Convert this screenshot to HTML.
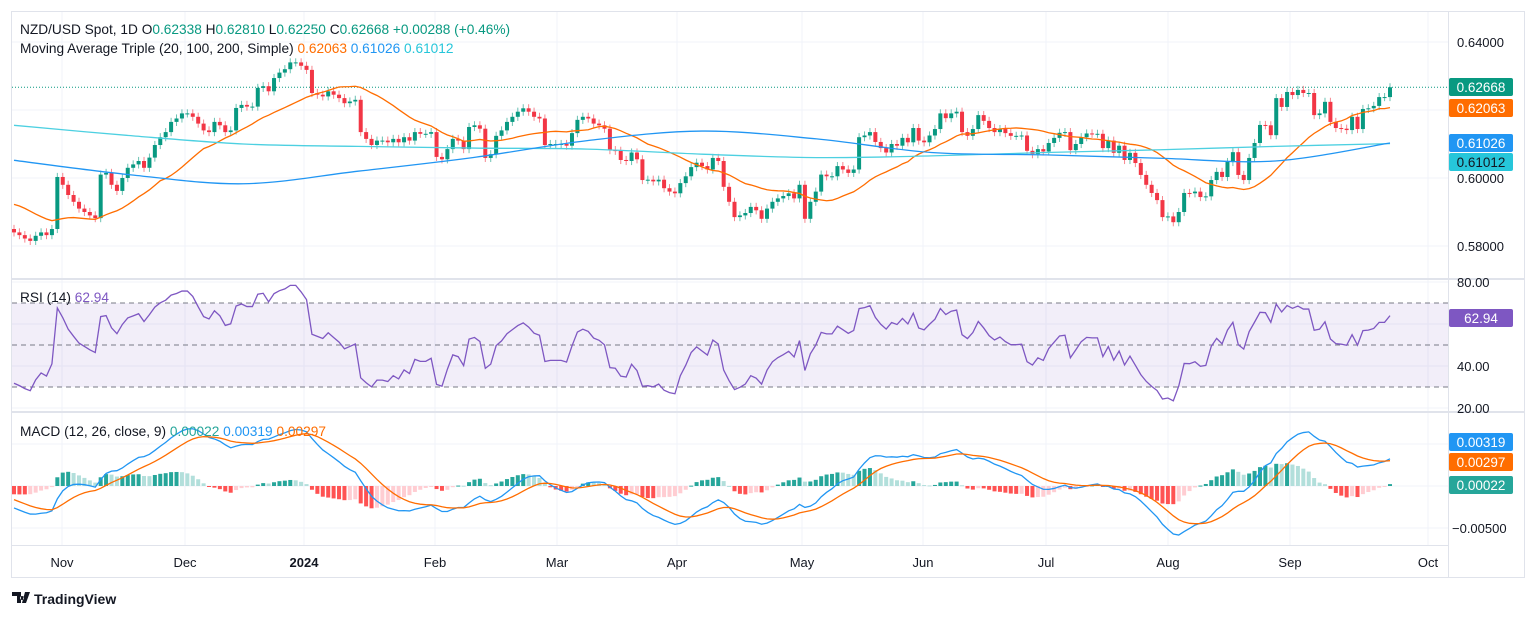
<!DOCTYPE html>
<html><head><meta charset="utf-8"><style>
html,body{margin:0;padding:0;background:#fff;width:1536px;height:618px;overflow:hidden;font-family:"Liberation Sans",sans-serif}
svg{position:absolute;left:0;top:0}
</style></head><body>
<svg id="chart" width="1536" height="618" xmlns="http://www.w3.org/2000/svg">
<rect x="11.5" y="11.5" width="1513" height="566" fill="#fff" stroke="#e0e3eb"/>
<g id="grid"></g>
<g id="panes"></g>
<g id="marks"></g>
<g id="axes" font-size="13" fill="#131722"></g>
<g font-size="13.7">
<text x="20" y="34" fill="#131722">NZD/USD Spot, 1D  O<tspan fill="#089981">0.62338</tspan>  H<tspan fill="#089981">0.62810</tspan>  L<tspan fill="#089981">0.62250</tspan>  C<tspan fill="#089981">0.62668</tspan>  <tspan fill="#089981">+0.00288 (+0.46%)</tspan></text>
<text x="20" y="53" fill="#131722">Moving Average Triple (20, 100, 200, Simple)  <tspan fill="#ff6d00">0.62063</tspan>  <tspan fill="#2196f3">0.61026</tspan>  <tspan fill="#26c6da">0.61012</tspan></text>
</g>
<text x="20" y="302" font-size="13.7" fill="#131722">RSI (14)  <tspan fill="#7e57c2">62.94</tspan></text>
<text x="20" y="436" font-size="13.7" fill="#131722">MACD (12, 26, close, 9)  <tspan fill="#26a69a">0.00022</tspan>  <tspan fill="#2196f3">0.00319</tspan>  <tspan fill="#ff6d00">0.00297</tspan></text>
<g>
<path d="M12 592h9v11h-4v-7h-5z M22 596a2 2 0 1 0 .1 0z M25 592h5l-4 11h-4z" fill="#131722"/>
<text x="34" y="604" font-size="14" font-weight="bold" fill="#131722">TradingView</text>
</g>
</svg>
<script>
const priorCloses=[0.596,0.595,0.593,0.594,0.592,0.590,0.594,0.597,0.596,0.598,0.595,0.593,0.596,0.598,0.600,0.599,0.597,0.595,0.594,0.592,0.590,0.592,0.594,0.593,0.592,0.590,0.588,0.587,0.586,0.585];
const closes=[0.5840,0.5832,0.5822,0.5815,0.5830,0.5840,0.5832,0.5850,
0.6003,0.5980,0.5950,0.5930,0.5910,0.5900,0.5890,0.5882,0.6010,0.6015,0.5980,0.5962,0.6000,0.6030,0.6040,0.6050,0.6030,0.6060,0.6097,0.6120,0.6135,0.6165,
0.6175,0.6190,0.6190,0.6180,0.6160,0.6140,0.6135,0.6165,0.6155,0.6135,0.6140,0.6206,0.6215,0.6210,0.6210,0.6265,0.6270,0.6255,0.6294,0.6310,0.6320,0.6340,0.6340,0.6330,0.6318,
0.6250,0.6245,0.6240,0.6255,0.6245,0.6235,0.6220,0.6225,0.6230,0.6135,0.6115,0.6097,0.6110,0.6110,0.6105,0.6115,0.6105,0.6120,0.6110,0.6135,0.6130,0.6130,0.6135,
0.6062,0.6055,0.6085,0.6115,0.6110,0.6085,0.6150,0.6155,0.6145,0.6059,0.6070,0.6124,0.6140,0.6165,0.6180,0.6195,0.6205,0.6195,0.6180,0.6175,
0.6097,0.6100,0.6100,0.6100,0.6095,0.6132,0.6171,0.6180,0.6175,0.6160,0.6155,0.6145,0.6082,0.6080,0.6053,0.6050,0.6075,0.6055,0.5994,0.5995,0.5990,
0.5995,0.5970,0.5960,0.5955,0.5985,0.6005,0.6032,0.6045,0.6035,0.6025,0.6059,0.6050,0.5974,0.5930,0.5885,0.5890,0.5897,0.5915,0.5905,0.5880,0.5910,0.5930,0.5940,0.5947,
0.5955,0.5940,0.5980,0.5880,0.5930,0.5960,0.6010,0.6005,0.6005,0.6035,0.6025,0.6015,0.6025,0.6120,0.6125,0.6135,0.6106,0.6088,0.6075,0.6100,0.6095,0.6118,
0.6105,0.6147,0.6110,0.6105,0.6125,0.6144,0.6190,0.6176,0.6190,0.6195,0.6135,0.6124,0.6144,0.6185,0.6168,0.6147,0.6135,0.6144,0.6132,0.6124,0.6124,0.6125,
0.6080,0.6070,0.6085,0.6078,0.6103,0.6118,0.6133,0.6135,0.6082,0.6100,0.6120,0.6131,0.6130,0.6130,0.6088,0.6110,0.6074,0.6095,0.6053,0.6074,0.6044,0.6009,0.5980,
0.5956,0.5935,0.5885,0.5887,0.5870,0.5900,0.5956,0.5955,0.5960,0.5944,0.5946,0.5994,0.6018,0.6003,0.6047,0.6076,0.6009,0.5994,0.6059,0.6103,0.6156,0.6155,
0.6126,0.6235,0.6209,0.6253,0.6244,0.6259,0.6250,0.6250,0.6185,0.6190,0.6224,0.6165,0.6147,0.6145,0.6141,0.6180,0.6144,0.6203,0.6205,0.6212,0.6238,0.6238,0.62668];
const sma100Knots=[0.6052,0.6010,0.5983,0.6020,0.6060,0.6110,0.6138,0.6115,0.6075,0.6068,0.6058,0.6050,0.6103];
const sma200Knots=[0.6155,0.6125,0.6100,0.6093,0.6088,0.6085,0.6070,0.6060,0.6065,0.6075,0.6083,0.6093,0.6101];
const priceTicks=["0.64000","0.60000","0.58000"];
const priceTickVals=[0.64,0.60,0.58];
const rsiTicks=["80.00","40.00","20.00"];
const rsiTickVals=[80,40,20];
const monthLabels=["Nov","Dec","2024","Feb","Mar","Apr","May","Jun","Jul","Aug","Sep","Oct"];
const monthX=[62,185,304,435,557,677,802,923,1046,1168,1290,1428];

const NS="http://www.w3.org/2000/svg";
function mk(tag,attrs,parent){const e=document.createElementNS(NS,tag);for(const k in attrs)e.setAttribute(k,attrs[k]);parent.appendChild(e);return e;}
const n=closes.length, X0=14, X1=1390, step=(X1-X0)/(n-1);
const xs=i=>X0+i*step;
const py=p=>178-(p-0.60)*3400;
const ry=v=>345-(v-50)*2.1;
const my=v=>486-v*8400;
const grid=document.getElementById('grid'),panes=document.getElementById('panes'),marks=document.getElementById('marks'),axes=document.getElementById('axes');

monthX.forEach(x=>{const l=mk('line',{x1:x,x2:x,y1:12,y2:545,stroke:'#f0f3fa'},grid);});
[0.64,0.62,0.60,0.58].forEach(v=>{const l=mk('line',{x1:12,x2:1448,y1:py(v),y2:py(v),stroke:'#f0f3fa'},grid);});
[80,60,40,20].forEach(v=>{mk('line',{x1:12,x2:1448,y1:ry(v),y2:ry(v),stroke:'#f0f3fa'},grid);});
[0.005,0,-0.005].forEach(v=>{mk('line',{x1:12,x2:1448,y1:my(v),y2:my(v),stroke:'#f0f3fa'},grid);});
[279,412].forEach(y=>{const l=mk('line',{x1:12,x2:1524,y1:y,y2:y,stroke:'#e0e3eb',"stroke-width":2},panes);});
mk('line',{x1:1448.5,x2:1448.5,y1:12,y2:577,stroke:'#e0e3eb'},panes);
mk('line',{x1:12,x2:1448,y1:545.5,y2:545.5,stroke:'#e0e3eb'},panes);
const band=mk('rect',{x:12,y:ry(70),width:1436,height:ry(30)-ry(70),fill:'rgba(126,87,194,0.1)'},panes);

[70,50,30].forEach(v=>{const l=mk('line',{x1:12,x2:1448,y1:ry(v),y2:ry(v),stroke:'#787b86',"stroke-dasharray":"5,4"},panes);});
mk('line',{x1:12,x2:1448,y1:py(closes[n-1]),y2:py(closes[n-1]),stroke:'#089981',"stroke-dasharray":"1,2"},panes);

const all=priorCloses.concat(closes);
for(let i=0;i<n;i++){
  const c=closes[i], o=i?closes[i-1]:priorCloses[priorCloses.length-1];
  const up=c>=o, col=up?'#089981':'#f23645';
  const hi=Math.max(o,c)+0.0012, lo=Math.min(o,c)-0.0012;
  const x=xs(i);
  const w=mk('line',{x1:x,x2:x,y1:py(hi),y2:py(lo),stroke:col,"stroke-opacity":0.6},marks);
  
  const t=Math.min(py(o),py(c)),h=Math.max(1,Math.abs(py(o)-py(c)));
  const b=mk('rect',{x:x-2,y:t,width:4,height:h,fill:col},marks);
  
}
let pts=[];
for(let i=0;i<n;i++){const j=i+priorCloses.length;let s=0;for(let k=j-19;k<=j;k++)s+=all[k];pts.push(xs(i)+','+py(s/20));}
const s20=mk('polyline',{points:pts.join(' '),fill:'none',stroke:'#ff6d00',"stroke-width":1.3},marks);

function knotLine(arr,color,name){
  const m=arr.length-1;
  const P=arr.map((v,k)=>[xs(k*(n-1)/m),py(v)]);
  let d='M'+P[0][0]+','+P[0][1];
  for(let k=0;k<m;k++){const p0=P[Math.max(0,k-1)],p1=P[k],p2=P[k+1],p3=P[Math.min(m,k+2)];
    d+=' C'+(p1[0]+(p2[0]-p0[0])/6)+','+(p1[1]+(p2[1]-p0[1])/6)+' '+(p2[0]-(p3[0]-p1[0])/6)+','+(p2[1]-(p3[1]-p1[1])/6)+' '+p2[0]+','+p2[1];}
  const e=mk('path',{d:d,fill:'none',stroke:color,"stroke-width":1.3},marks);
  
}
knotLine(sma200Knots,'#4dd0e1','sma200-line');
knotLine(sma100Knots,'#2196f3','sma100-line');

let ag=0,al=0;const rsi=[];
for(let j=1;j<all.length;j++){const d=all[j]-all[j-1],g=Math.max(d,0),l=Math.max(-d,0);
  if(j<=14){ag+=g/14;al+=l/14;}else{ag=(ag*13+g)/14;al=(al*13+l)/14;}
  if(j>=priorCloses.length)rsi.push(al===0?100:100-100/(1+ag/al));}
const rsiPts=rsi.slice(rsi.length-n).map((v,i)=>xs(i)+','+ry(v));
const rl=mk('polyline',{points:rsiPts.join(' '),fill:'none',stroke:'#7e57c2',"stroke-width":1.3},marks);


let e12=all[0],e26=all[0],sig=0;const macd=[],sg=[];
all.forEach((c,j)=>{e12=e12+(c-e12)*2/13;e26=e26+(c-e26)*2/27;const m=e12-e26;sig=j?sig+(m-sig)*2/10:m;macd.push(m);sg.push(sig);});
const off=priorCloses.length;
let prevH=macd[off-1]-sg[off-1];
for(let i=0;i<n;i++){const h=macd[off+i]-sg[off+i];
  const col=h>=0?(h>=prevH?'#26a69a':'#b2dfdb'):(h<prevH?'#ff5252':'#ffcdd2');
  const y0=my(0),y1=my(h);
  const r=mk('rect',{x:xs(i)-2,y:Math.min(y0,y1),width:4,height:Math.max(1,Math.abs(y1-y0)),fill:col},marks);
  prevH=h;}
const ml=mk('polyline',{points:macd.slice(off).map((v,i)=>xs(i)+','+my(v)).join(' '),fill:'none',stroke:'#2196f3',"stroke-width":1.3},marks);

const sl=mk('polyline',{points:sg.slice(off).map((v,i)=>xs(i)+','+my(v)).join(' '),fill:'none',stroke:'#ff6d00',"stroke-width":1.3},marks);


priceTicks.forEach((t,i)=>{const e=mk('text',{x:1457,y:py(priceTickVals[i])+5},axes);e.textContent=t;});
rsiTicks.forEach((t,i)=>{const e=mk('text',{x:1457,y:ry(rsiTickVals[i])+5},axes);e.textContent=t;});
{const e=mk('text',{x:1452,y:my(-0.005)+5},axes);e.textContent='−0.00500';}
monthLabels.forEach((t,i)=>{const e=mk('text',{x:monthX[i],y:567,"text-anchor":"middle","font-weight":t==='2024'?'bold':'normal'},axes);e.textContent=t;});
function badge(y,txt,bg,fg,name){const g=mk('g',{},axes);
  mk('rect',{x:1449,y:y-9,width:64,height:18,fill:bg,rx:2},g);const t=mk('text',{x:1481,y:y+5,"text-anchor":"middle",fill:fg,"font-size":13.5},g);t.textContent=txt;}
badge(87,'0.62668','#089981','#fff','last-price-badge');
badge(108,'0.62063','#ff6d00','#fff','sma20-badge');
badge(143,'0.61026','#2196f3','#fff','sma100-badge');
badge(162,'0.61012','#26c6da','#131722','sma200-badge');
badge(318,'62.94','#7e57c2','#fff','rsi-badge');
badge(442,'0.00319','#2196f3','#fff','macd-badge');
badge(462,'0.00297','#ff6d00','#fff','signal-badge');
badge(485,'0.00022','#26a69a','#fff','histogram-badge');
</script>
</body></html>
